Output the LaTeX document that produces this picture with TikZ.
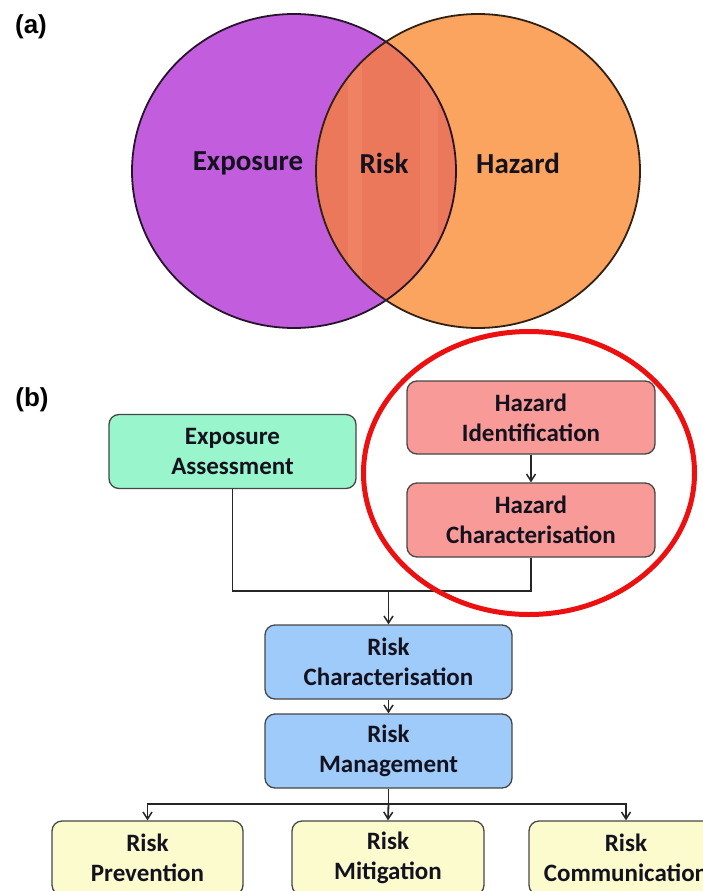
\documentclass[tikz,border=0pt]{standalone}
\usepackage{fontspec}
\setmainfont{Carlito}
\newfontfamily\arialfont{Liberation Sans}
\usetikzlibrary{arrows.meta}
\definecolor{vpurple}{RGB}{194,94,222}
\definecolor{vorange}{RGB}{251,164,96}
\definecolor{vmix}{RGB}{236,120,92}
\definecolor{vmixl}{RGB}{242,138,104}
\definecolor{mint}{RGB}{153,245,204}
\definecolor{pinkbox}{RGB}{248,155,152}
\definecolor{bluebox}{RGB}{158,203,250}
\definecolor{yellowbox}{RGB}{251,251,206}
\definecolor{boxline}{RGB}{70,70,70}
\definecolor{ringred}{RGB}{236,16,16}
\definecolor{txt}{RGB}{20,18,30}
\begin{document}
\begin{tikzpicture}[x=1pt,y=-1pt,
  box/.style={draw=boxline, line width=1.3pt, rounded corners=10pt,
    minimum width=247pt, minimum height=74pt, align=center, inner sep=0pt,
    text=txt, font=\bfseries\fontsize{25}{30}\selectfont},
  vlabel/.style={text=txt, font=\bfseries\fontsize{29}{30}\selectfont, inner sep=0pt},
  plabel/.style={text=black, font=\arialfont\bfseries\fontsize{26}{28}\selectfont, inner sep=0pt},
  wire/.style={line width=1.8pt, draw=black!85},
  conn/.style={wire, -{Straight Barb[length=7pt,width=9pt,line width=1.5pt]}}]
\useasboundingbox (0,0) rectangle (703,891);
\clip (0,0) rectangle (703,891);
% (a) Venn diagram
\node[plabel] (la) at (31,27) {(a)};
\fill[vpurple] (294,171) ellipse [x radius=162, y radius=157];
\fill[vorange] (478,171) ellipse [x radius=162, y radius=157];
\begin{scope}
  \clip (294,171) ellipse [x radius=162, y radius=157];
  \clip (478,171) ellipse [x radius=162, y radius=157];
  \fill[vmix] (300,0) rectangle (470,340);
  \fill[vmixl, opacity=0.6] (348,0) rectangle (362,340);
  \fill[vmixl, opacity=0.5] (420,0) rectangle (438,340);
\end{scope}
\draw[line width=1.8pt, draw=black!80!vpurple] (294,171) ellipse [x radius=162, y radius=157];
\draw[line width=1.8pt, draw=black!80!vorange] (478,171) ellipse [x radius=162, y radius=157];
\node[vlabel] (exp) at (248,163) {Exposure};
\node[vlabel] (risk) at (384,163) {Risk};
\node[vlabel] (haz) at (518,163) {Hazard};
% (b) flow chart
\node[plabel] (lb) at (32,400) {(b)};
\node[box, fill=mint] (EA) at (232.5,451.5) {Exposure\\Assessment};
\node[box, fill=pinkbox, minimum width=248pt, minimum height=73pt] (HI) at (531,417.5) {Hazard\\Identification};
\node[box, fill=pinkbox, minimum width=248pt] (HC) at (531,520) {Hazard\\Characterisation};
\node[box, fill=bluebox] (RC) at (388.5,662) {Risk\\Characterisation};
\node[box, fill=bluebox] (RM) at (388.5,751) {Risk\\Management};
\node[box, fill=yellowbox, minimum width=191pt] (RP) at (147.5,858) {Risk\\Prevention};
\node[box, fill=yellowbox, minimum width=192pt] (RMi) at (388,858) {Risk\\Mitigation};
\node[box, fill=yellowbox, minimum width=194pt] (RCo) at (626,858) {Risk\\Communication};
\coordinate (j) at (388.5,591);
\coordinate (b) at (388.5,804);
\draw[wire] (EA.south) |- (j) -| (HC.south);
\draw[conn] (j) -- (RC.north);
\draw[conn] (HI.south) -- (HC.north);
\draw[conn] (RC.south) -- (RM.north);
\draw[wire] (RM.south) -- (b);
\draw[conn] (b) -| (RP.north);
\draw[conn] (b) -- (RMi.north);
\draw[conn] (b) -| (RCo.north);
% red ring
\draw[ringred, line width=5pt] (529,473) ellipse [x radius=165.5, y radius=141.5];
\end{tikzpicture}
\end{document}
